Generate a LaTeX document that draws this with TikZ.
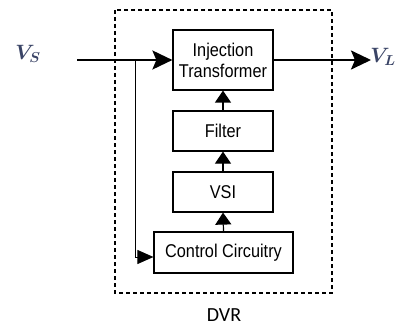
\documentclass[tikz,border=0pt]{standalone}
\usepackage{fontspec}
\setmainfont{Liberation Sans}
\newfontfamily\narrowfont[FakeStretch=0.88]{Liberation Sans}
\newfontfamily\dvrfont{Carlito}
\usetikzlibrary{arrows.meta}
\definecolor{vcol}{HTML}{3A4466}
\begin{document}
\begin{tikzpicture}[x=1pt,y=1pt,
  blk/.style={draw,line width=1.2pt,minimum width=100pt,minimum height=40pt,inner sep=0pt,align=center,font=\narrowfont\fontsize{18.5}{21}\selectfont},
  mainline/.style={line width=2.4pt,-{Stealth[length=20pt,width=19pt,inset=4pt]}},
  smallarrow/.style={line width=1.2pt,-{Triangle[length=12pt,width=16pt]}},
  vlab/.style={text=vcol,font=\fontsize{22}{24}\selectfont\boldmath}]
\useasboundingbox (0,0) rectangle (395,327);
\draw[dashed,line width=1.1pt,dash pattern=on 4pt off 3pt] (115,317) rectangle (332,34);
\node[blk,minimum height=60pt] (it) at (223,267) {Injection\\Transformer};
\node[blk] (filter) at (223,196) {Filter};
\node[blk] (vsi) at (223,135) {VSI};
\node[blk,minimum width=139pt,minimum height=41pt] (cc) at (223.5,74.5) {Control Circuitry};
\coordinate (in) at (77,267);
\coordinate (out) at (371,267);
\coordinate (br) at (135,267);
\coordinate (brd) at (135,70);
\node[vlab] (vs) at (28,273) {$V_S$};
\node[vlab] (vl) at (383,270) {$V_L$};
\node[font=\dvrfont\fontsize{20}{22}\selectfont] (dvr) at (224,12) {DVR};
\draw[mainline] (in) -- (it.west);
\draw[mainline] (it.east) -- (out);
\draw[smallarrow] (filter.north) -- (it.south);
\draw[smallarrow] (vsi.north) -- (filter.south);
\draw[smallarrow] (cc.north) -- (vsi.south);
\draw[line width=0.9pt,-{Triangle[length=16pt,width=14pt]}] (br) -- (brd) -- (cc.west |- brd);
\end{tikzpicture}
\end{document}
